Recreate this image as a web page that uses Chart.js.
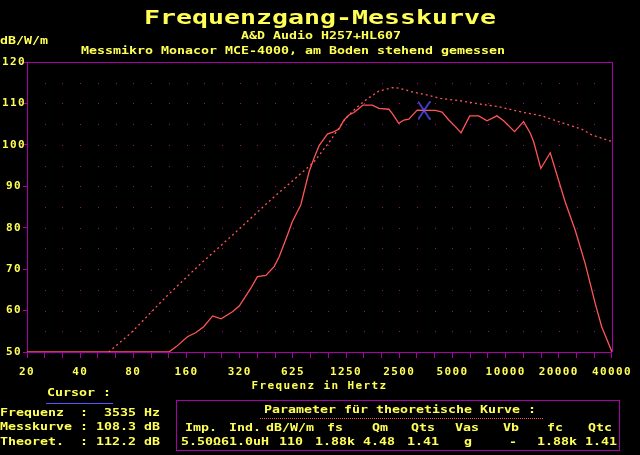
<!DOCTYPE html>
<html><head><meta charset="utf-8">
<script src="https://cdn.jsdelivr.net/npm/chart.js@4.4.0/dist/chart.umd.min.js"></script>
<style>
html,body{margin:0;padding:0;background:#000;}
#wrap{position:relative;width:640px;height:455px;overflow:hidden;background:#000;}
#c{position:absolute;left:0;top:0;}
.t{position:absolute;white-space:pre;color:#FFFF55;font-family:'DejaVu Sans Mono',monospace;font-weight:bold;font-size:10px;line-height:10px;transform:scaleX(1.329);transform-origin:0 0;}
.big{font-size:20px;line-height:20px;}
</style></head><body>
<div id="wrap"><canvas id="c" width="640" height="455"></canvas></div>
<script>
// ---------- data ----------
const xTickLabels = ['20','40','80','160','320','625','1250','2500','5000','10000','20000','40000'];
const measFreq = [20,127,140,162,181,200,225,251,291,318,370,403,450,501,535,584,636,709,790,843,900,939,1003,1094,1167,1246,1329,1418,1514,1594,1800,1964,2236,2334,2544,2718,2900,3232,3535,4104,4471,4880,5322,5726,6413,7206,8030,9144,9975,11510,12940,14120,14740,16200,18310,22260,25360,28860,32870,35820,40960];
const measDb   = [50,50,51.3,53.7,54.7,56.1,58.7,58.0,59.7,61.1,65.4,68.2,68.5,70.6,73.0,77.2,81.5,85.5,93.5,96.8,99.8,100.9,102.6,103.2,103.8,106.0,107.2,107.8,108.8,109.6,109.6,108.8,108.6,107.6,105.2,106.0,106.2,108.4,108.3,108.3,107.9,106.0,104.4,102.9,107.0,107.0,105.8,107.0,105.8,103.2,105.6,102.8,100.8,94.3,98.1,86.2,79.4,71.4,61.8,56.1,50.0];
const theoFreq = [58,78,123,189,291,470,694,843,1025,1273,1450,1652,1964,2334,2544,3028,3535,4380,5556,7206,9350,12660,16420,20400,27620,31460,40960];
const theoDb   = [50.0,54.7,63.4,71.0,78.2,86.4,92.7,95.9,100.6,106.4,108.8,110.8,113.0,113.8,113.7,112.8,112.2,111.2,110.7,109.9,109.2,107.9,107.0,105.6,103.8,102.4,100.8];
const cursorFreq = [3535];
const cursorDb = [108.3];
const cursorTheo = [112.2];
const paramHeaders = ['Imp.','Ind.','dB/W/m','fs','Qm','Qts','Vas','Vb','fc','Qtc'];
const paramValues  = ['5.50\u03A961.0uH','110','1.88k','4.48','1.41','g','-','1.88k','1.41'];

// ---------- layout helpers ----------
const wrap = document.getElementById('wrap');
function addText(str, x, cy, big){
  const d = document.createElement('div');
  d.className = 't' + (big ? ' big' : '');
  d.textContent = str;
  d.style.left = x + 'px';
  d.style.top = (cy - (big ? 10 : 5)) + 'px';
  wrap.appendChild(d);
}
function addBox(x, y, w, h, css){
  const d = document.createElement('div');
  d.style.cssText = 'position:absolute;box-sizing:border-box;left:'+x+'px;top:'+y+'px;width:'+w+'px;height:'+h+'px;'+css;
  wrap.appendChild(d);
}
addText('Frequenzgang-Messkurve', 144, 17, true);
addText('A&D Audio H257+HL607', 241, 35.7);
addText('dB/W/m', 0, 40.7);
addText('Messmikro Monacor MCE-4000, am Boden stehend gemessen', 81, 50.8);
addText('Cursor :', 47, 392.7);
addBox(46, 403, 67, 1, 'background:#5555FF;');
addText('Frequenz  :  ' + cursorFreq[0] + ' Hz', 0, 413.3);
addText('Messkurve : ' + cursorDb[0].toFixed(1) + ' dB', 0, 427.3);
addText('Theoret.  : ' + cursorTheo[0].toFixed(1) + ' dB', 0, 441.7);
addBox(176, 400, 444, 51, 'border:1px solid #AA00AA;');
addText('Parameter f\u00FCr theoretische Kurve :', 264, 410.3);
addBox(260, 418, 283, 1, 'border-top:1px dotted #FF5555;');
const headerX = [185,229,265.7,326.7,372.3,410.7,455,502.7,547.3,588.3];
const valueX  = [181,279.3,315,362.7,407.3,464.3,509.3,537.3,585];
paramHeaders.forEach((h,i)=>addText(h, headerX[i], 427.7));
paramValues.forEach((v,i)=>addText(v, valueX[i], 441.7));

// ---------- chart ----------
const YEL = '#FFFF55', MAG = '#AA00AA', RED = '#FF5555', BLU = '#5555FF';
const FONT = {family:"'DejaVu Sans Mono', monospace", size:11, weight:'bold', lineHeight:1.2};

const cross = document.createElement('canvas');
cross.width = 13; cross.height = 19;
(function(){ const g = cross.getContext('2d'); g.strokeStyle = BLU; g.lineWidth = 1.4;
  g.beginPath(); g.moveTo(0.5,0.5); g.lineTo(12.5,18.5); g.moveTo(12.5,0.5); g.lineTo(0.5,18.5); g.stroke(); })();

const lsPlugin = { id:'ls',
  beforeUpdate(c){ c.ctx.letterSpacing = '1.38px'; },
  beforeDraw(c){ c.ctx.letterSpacing = '1.38px'; } };
const dotsPlugin = { id:'dots',
  beforeDatasetsDraw(c){
    const {ctx, chartArea:a, scales:{x, y}} = c;
    ctx.save();
    ctx.fillStyle = MAG;
    for (let k = 1; k < 33; k++){
      const px = Math.round(x.getPixelForValue(20 * Math.pow(2, k/3)));
      for (let d = 55; d < 120; d += 5){
        const py = Math.round(y.getPixelForValue(d));
        ctx.fillRect(px, py, 1, 1);
      }
    }
    ctx.strokeStyle = MAG; ctx.lineWidth = 1;
    ctx.beginPath();
    ctx.moveTo(a.left, a.top + 0.5); ctx.lineTo(a.right + 1, a.top + 0.5);
    ctx.moveTo(a.right + 0.5, a.top); ctx.lineTo(a.right + 0.5, a.bottom);
    ctx.stroke();
    ctx.restore();
  } };

new Chart(document.getElementById('c'), {
  type: 'line',
  data: { datasets: [
    { data: cursorFreq.map((f,i)=>({x:f, y:cursorDb[i]})), showLine:false, pointStyle: cross, pointRadius: 9, order: 0 },
    { data: measFreq.map((f,i)=>({x:f, y:measDb[i]})), borderColor: RED, borderWidth: 1.3, pointRadius: 0, tension: 0, order: 1 },
    { data: theoFreq.map((f,i)=>({x:f, y:theoDb[i]})), borderColor: RED, borderWidth: 1.3, borderDash:[2,3], pointRadius: 0, tension: 0, order: 2 }
  ]},
  options: {
    responsive: false, animation: false, devicePixelRatio: 1, events: [],
    layout: { padding: { top: 62, right: 27, left: 0, bottom: 0 } },
    plugins: { legend: {display:false}, tooltip: {enabled:false}, title:{display:false} },
    scales: {
      x: {
        type: 'logarithmic', min: 20, max: 40960,
        afterBuildTicks(s){ s.ticks = Array.from({length: 34}, (_, k) => ({value: 20 * Math.pow(2, k/3)})); },
        afterFit(s){ s.height = 103; },
        grid: { display: true, drawOnChartArea: false, drawTicks: true, tickLength: 6, color: MAG, lineWidth: 1 },
        border: { display: true, color: MAG, width: 1 },
        ticks: { autoSkip: false, maxRotation: 0, minRotation: 0, padding: 8, color: YEL, font: FONT,
                 callback(v, i){ return i % 3 === 0 ? xTickLabels[i/3] : ''; } },
        title: { display: true, text: 'Frequenz in Hertz', color: YEL, font: FONT, padding: {top: 0, bottom: 62} }
      },
      y: {
        min: 50, max: 120,
        afterFit(s){ s.width = 27; },
        grid: { display: true, drawOnChartArea: false, drawTicks: true, tickLength: 4, color: MAG, lineWidth: 1 },
        border: { display: true, color: MAG, width: 1 },
        ticks: { stepSize: 10, crossAlign: 'center', padding: -3, color: YEL, font: FONT }
      }
    }
  },
  plugins: [lsPlugin, dotsPlugin]
});
</script>
</body></html>
